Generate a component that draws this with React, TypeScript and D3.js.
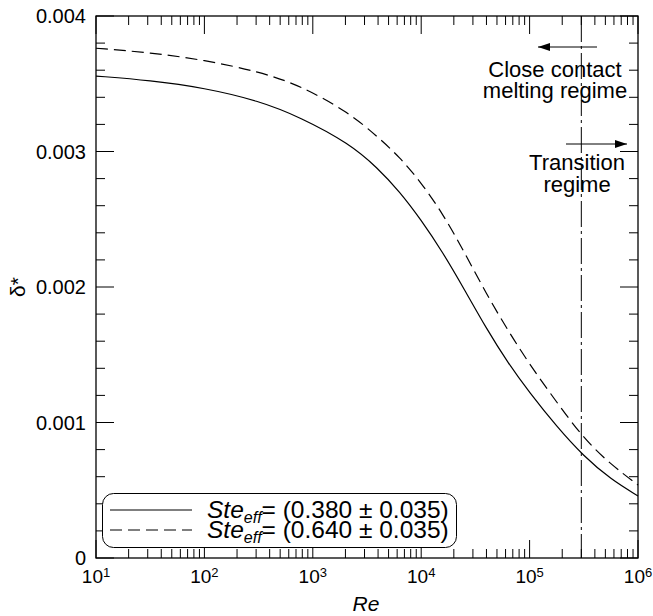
import React from 'react';
import * as d3 from 'd3';

// Reynolds numbers at which the curves were read
const reValues = [10, 31.6, 100, 316, 759, 2188, 3981, 6310, 10000, 15849, 25119, 39811, 63096, 100000, 177828, 316228, 562341, 1000000];
// Ste_eff = 0.380 ± 0.035 (solid)
const deltaSte038 = [0.003557, 0.003525, 0.00347, 0.003375, 0.003255, 0.003058, 0.002877, 0.002705, 0.002495, 0.002255, 0.00198, 0.001695, 0.00144, 0.00122, 0.00097, 0.00075, 0.00058, 0.000458];
// Ste_eff = 0.640 ± 0.035 (dashed)
const deltaSte064 = [0.003762, 0.00373, 0.003675, 0.00359, 0.00349, 0.003284, 0.003107, 0.00296, 0.00277, 0.00254, 0.002255, 0.00195, 0.00168, 0.001428, 0.00115, 0.00088, 0.00069, 0.000539];

const xMajorTicks = [10, 100, 1000, 10000, 100000, 1000000];
const xTickExponents = ['1', '2', '3', '4', '5', '6'];
const yMajorTicks = [0, 0.001, 0.002, 0.003, 0.004];
const yTickLabels = ['0', '0.001', '0.002', '0.003', '0.004'];
const transitionRe = 300000;
const legendLabels = ['= (0.380 ± 0.035)', '= (0.640 ± 0.035)'];

const W = 653;
const H = 616;
const left = 96, right = 638, top = 16, bottom = 558;
const FONT = 'Liberation Sans, Arial, Helvetica, sans-serif';

export default function App() {
  const x = d3.scaleLog().domain([10, 1e6]).range([left, right]);
  const y = d3.scaleLinear().domain([0, 0.004]).range([bottom, top]);

  const xMinor: number[] = [];
  for (let d = 10; d < 1e6; d *= 10) {
    for (let k = 2; k <= 9; k++) xMinor.push(d * k);
  }
  const yMinor = d3.range(0, 0.0040001, 0.0002).filter(v => Math.abs(v / 0.001 - Math.round(v / 0.001)) > 1e-6);

  const line = d3.line<[number, number]>()
    .x(d => x(d[0]))
    .y(d => y(d[1]))
    .curve(d3.curveBasis);

  const solid = line(reValues.map((r, i) => [r, deltaSte038[i]]));
  const dashed = line(reValues.map((r, i) => [r, deltaSte064[i]]));

  const tickStyle = { stroke: '#000', strokeWidth: 1 };
  const maj = 18, mnr = 9;

  const xt = x(transitionRe);

  return (
    <svg width={W} height={H} style={{ position: 'absolute', left: 0, top: 0, background: '#fff' }} fontFamily={FONT}>
      <defs>
        <marker id="ah" viewBox="0 0 12 8" refX="12" refY="4" markerWidth="12" markerHeight="8" markerUnits="userSpaceOnUse" orient="auto">
          <path d="M0,0 L12,4 L0,8 Z" fill="#000" />
        </marker>
      </defs>
      <rect x={0} y={0} width={W} height={H} fill="#fff" />

      {/* ticks bottom & top */}
      {xMajorTicks.map((t, i) => (
        <g key={'xm' + i}>
          <line x1={x(t)} x2={x(t)} y1={bottom} y2={bottom - maj} {...tickStyle} />
          <line x1={x(t)} x2={x(t)} y1={top} y2={top + maj} {...tickStyle} />
        </g>
      ))}
      {xMinor.map((t, i) => (
        <g key={'xn' + i}>
          <line x1={x(t)} x2={x(t)} y1={bottom} y2={bottom - mnr} {...tickStyle} />
          <line x1={x(t)} x2={x(t)} y1={top} y2={top + mnr} {...tickStyle} />
        </g>
      ))}
      {/* ticks left & right */}
      {yMajorTicks.map((t, i) => (
        <g key={'ym' + i}>
          <line x1={left} x2={left + maj} y1={y(t)} y2={y(t)} {...tickStyle} />
          <line x1={right} x2={right - maj} y1={y(t)} y2={y(t)} {...tickStyle} />
        </g>
      ))}
      {yMinor.map((t, i) => (
        <g key={'yn' + i}>
          <line x1={left} x2={left + mnr} y1={y(t)} y2={y(t)} {...tickStyle} />
          <line x1={right} x2={right - mnr} y1={y(t)} y2={y(t)} {...tickStyle} />
        </g>
      ))}

      {/* transition line */}
      <line x1={xt} x2={xt} y1={top} y2={bottom} stroke="#000" strokeWidth={1} strokeDasharray="26,4,3,4" />

      {/* curves */}
      <path d={solid || ''} fill="none" stroke="#000" strokeWidth={1.2} />
      <path d={dashed || ''} fill="none" stroke="#000" strokeWidth={1.2} strokeDasharray="12,6" />

      {/* frame */}
      <rect x={left} y={top} width={right - left} height={bottom - top} fill="none" stroke="#000" strokeWidth={1.3} />

      {/* x tick labels */}
      {xMajorTicks.map((t, i) => (
        <text key={'xl' + i} x={x(t)} y={583} textAnchor="middle" fontSize={19}>
          10<tspan fontSize={13} dy={-6}>{xTickExponents[i]}</tspan>
        </text>
      ))}
      {/* y tick labels */}
      {yMajorTicks.map((t, i) => (
        <text key={'yl' + i} x={86} y={y(t)} dy="0.36em" textAnchor="end" fontSize={20}>{yTickLabels[i]}</text>
      ))}

      {/* axis titles */}
      <text x={366} y={611} textAnchor="middle" fontSize={21} fontStyle="italic">Re</text>
      <text transform={`translate(25,287) rotate(-90)`} textAnchor="middle" fontSize={21}>δ*</text>

      {/* annotations */}
      <line x1={597} x2={538} y1={47} y2={47} stroke="#000" strokeWidth={1} markerEnd="url(#ah)" />
      <text x={555} y={77} textAnchor="middle" fontSize={22}>Close contact</text>
      <text x={555} y={98} textAnchor="middle" fontSize={22}>melting regime</text>
      <line x1={566} x2={627} y1={144} y2={144} stroke="#000" strokeWidth={1} markerEnd="url(#ah)" />
      <text x={577} y={170} textAnchor="middle" fontSize={22}>Transition</text>
      <text x={577} y={192} textAnchor="middle" fontSize={22}>regime</text>

      {/* legend */}
      <rect x={102.5} y={493.5} width={354} height={54} rx={11} ry={11} fill="#fff" stroke="#000" strokeWidth={1} />
      <line x1={110} x2={192} y1={510} y2={510} stroke="#000" strokeWidth={1.2} />
      <line x1={110} x2={192} y1={530} y2={530} stroke="#000" strokeWidth={1.2} strokeDasharray="12,6" />
      {legendLabels.map((lab, i) => (
        <text key={'lg' + i} x={207} y={517.5 + i * 20} fontSize={24.5}>
          <tspan fontStyle="italic">Ste</tspan>
          <tspan fontStyle="italic" fontSize={16} dy={5}>eff</tspan>
          <tspan dy={-5}>{lab}</tspan>
        </text>
      ))}
    </svg>
  );
}
